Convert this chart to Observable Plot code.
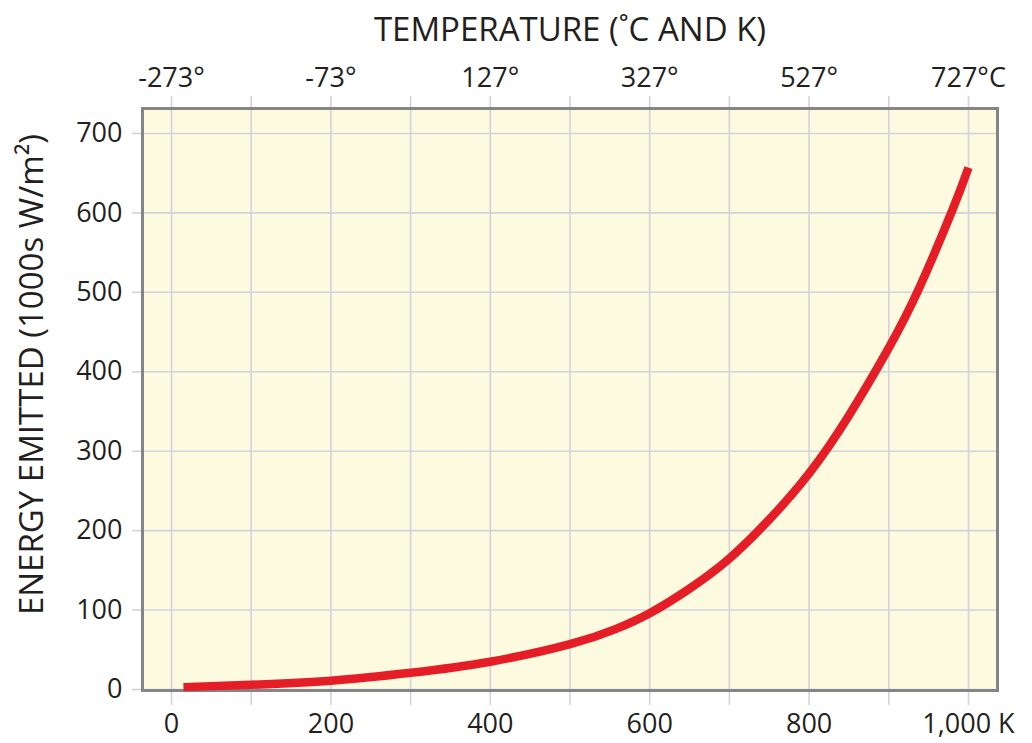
<!DOCTYPE html>
<html>
<head>
<meta charset="utf-8">
<script src="https://cdn.jsdelivr.net/npm/d3@7"></script>
<script src="https://cdn.jsdelivr.net/npm/@observablehq/plot@0.6"></script>
<style>
  html, body { margin: 0; padding: 0; background: #ffffff; }
  #chart { width: 1032px; height: 743px; }
</style>
</head>
<body>
<div id="chart"></div>
<script>
// Curve: temperature (K) -> energy emitted (1000s W/m²)
const tempK  = [15, 100, 200, 300, 400, 500, 557, 600, 650, 700, 750, 800, 850, 900, 938, 980, 1000];
const energy = [ 3,   6,  11,  21,  35,  57,  76,  96, 127, 165, 214, 272, 345, 430, 505, 604, 657];

// Axes
const gridK = [0, 100, 200, 300, 400, 500, 600, 700, 800, 900, 1000];
const labelK = [0, 200, 400, 600, 800, 1000];
const bottomTickLabels = ["0", "200", "400", "600", "800", "1,000 K"];
const topTickLabels = ["-273°", "-73°", "127°", "327°", "527°", "727°C"];
const yTicks = [0, 100, 200, 300, 400, 500, 600, 700];
const yTickLabels = ["0", "100", "200", "300", "400", "500", "600", "700"];

const titleText = "TEMPERATURE (˚C AND K)";
const yLabelText = "ENERGY EMITTED (1000s W/m²)";

const curveData = tempK.map((t, i) => ({t, e: energy[i]}));

const gridColor = "#d2d2dc";
const frameColor = "#858589";
const bgColor = "#fcfadf";
const red = "#e41d26";
const ink = "#231f20";

const plot = Plot.plot({
  width: 1032,
  height: 743,
  marginLeft: 142,
  marginRight: 35,
  marginTop: 108,
  marginBottom: 53,
  style: {fontFamily: "'Open Sans', 'Noto Sans', sans-serif", fontSize: "27px", color: ink, background: "#ffffff"},
  x: {domain: [-36.4, 1036.4]},
  y: {domain: [-1.25, 731.4]},
  marks: [
    Plot.frame({fill: bgColor, stroke: null}),
    Plot.gridX(gridK, {stroke: gridColor, strokeOpacity: 1, strokeWidth: 1.6}),
    Plot.gridY(yTicks, {stroke: gridColor, strokeOpacity: 1, strokeWidth: 1.6}),
    // tick stubs outside the frame
    Plot.axisX(gridK, {anchor: "top", tickSize: 13, tickFormat: () => "", stroke: gridColor, strokeWidth: 1.6, strokeOpacity: 1, label: null}),
    Plot.axisX(gridK, {anchor: "bottom", tickSize: 15, tickFormat: () => "", stroke: gridColor, strokeWidth: 1.6, strokeOpacity: 1, label: null}),
    Plot.axisY(yTicks, {anchor: "left", tickSize: 10, tickFormat: () => "", stroke: gridColor, strokeWidth: 1.6, strokeOpacity: 1, label: null}),
    Plot.frame({stroke: frameColor, strokeWidth: 3}),
    Plot.line(curveData, {x: "t", y: "e", stroke: red, strokeWidth: 8.5, curve: "natural", strokeLinecap: "butt"}),
    // tick labels
    Plot.text(labelK, {x: d => d, text: (d, i) => bottomTickLabels[i], frameAnchor: "bottom", dy: 34, lineAnchor: "middle", fontSize: 27, fill: ink}),
    Plot.text(labelK, {x: d => d, text: (d, i) => topTickLabels[i], frameAnchor: "top", dy: -30, lineAnchor: "middle", fontSize: 27, fill: ink}),
    Plot.text(yTicks, {y: d => d, text: (d, i) => yTickLabels[i], frameAnchor: "left", dx: -20, textAnchor: "end", lineAnchor: "middle", fontSize: 27, fill: ink}),
    // axis titles
    Plot.text([titleText], {frameAnchor: "top", dy: -78, lineAnchor: "middle", fontSize: 33, fill: ink}),
    Plot.text([yLabelText], {frameAnchor: "left", dx: -110, dy: -25, rotate: -90, textAnchor: "middle", lineAnchor: "middle", fontSize: 33, fill: ink})
  ]
});
document.getElementById("chart").appendChild(plot);
</script>
</body>
</html>
